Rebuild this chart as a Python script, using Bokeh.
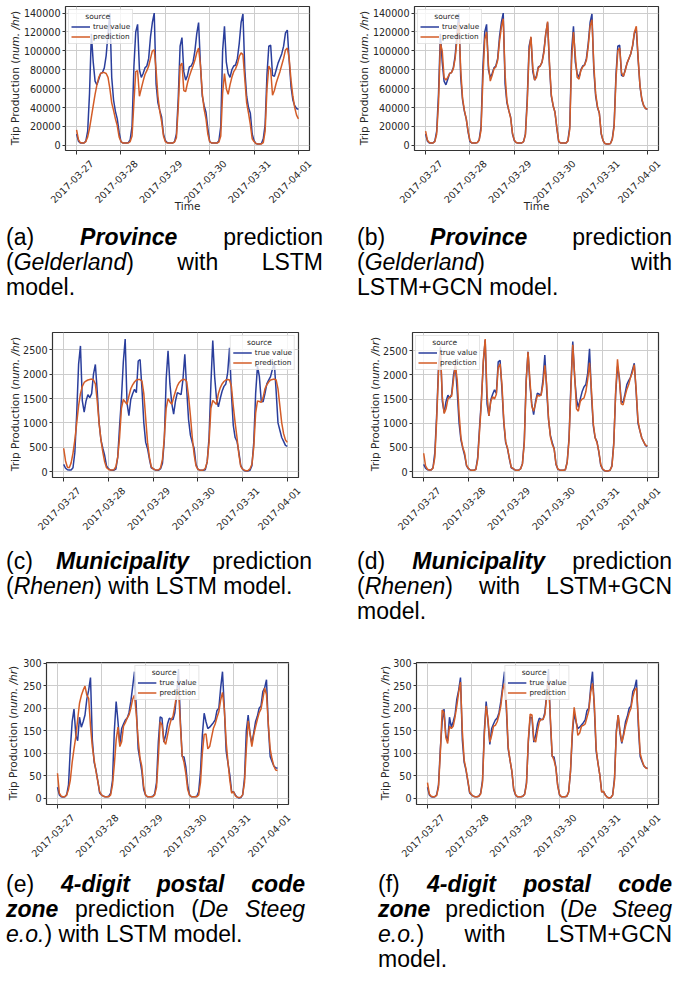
from math import pi

import pandas as pd
from bokeh.embed import file_html
from bokeh.layouts import column, row
from bokeh.models import (ColumnDataSource, CustomJSTickFormatter, Div, FixedTicker,
                          Legend, LegendItem, LinearAxis, NumeralTickFormatter, Range1d)
from bokeh.plotting import figure
from bokeh.resources import INLINE

# Hourly timestamps, Monday 2017-03-27 00:00 up to 2017-04-01 00:00
TIME = pd.date_range("2017-03-27 00:00", periods=121, freq="h")
DATE_TICKS = ["2017-03-27", "2017-03-28", "2017-03-29",
              "2017-03-30", "2017-03-31", "2017-04-01"]

# Province (Gelderland), trips per hour
PROVINCE_TRUE = [
    12000, 4500, 2500, 2500, 2500, 4500, 15000, 55000, 118000, 88000, 68000, 64000,
    70000, 76000, 77000, 82000, 95000, 118000, 140000, 72000, 48000, 36000, 28000, 14000,
    4000, 2500, 2500, 2500, 3000, 6000, 20000, 83000, 120000, 128000, 80000, 72000,
    76000, 82000, 84000, 92000, 115000, 130000, 140000, 65000, 45000, 37000, 30000, 12000,
    5000, 3000, 2500, 2500, 2500, 4000, 12000, 50000, 105000, 114000, 78000, 69000,
    74000, 83000, 84000, 88000, 100000, 118000, 130000, 85000, 52000, 42000, 35000, 18000,
    4000, 2500, 2500, 2500, 2500, 5000, 20000, 100000, 126000, 88000, 76000, 72000,
    80000, 84000, 85000, 92000, 108000, 130000, 139000, 80000, 52000, 40000, 34000, 12000,
    5000, 2000, 1500, 1500, 2000, 7000, 22000, 75000, 105000, 106000, 74000, 73000,
    80000, 87000, 92000, 97000, 105000, 119000, 122000, 90000, 62000, 48000, 42000, 39000,
    38000]
PROVINCE_LSTM = [
    16500, 6000, 3000, 2500, 2500, 4000, 9000, 18000, 30000, 42000, 54000, 64000,
    72000, 76000, 77000, 77000, 76000, 72000, 60000, 45000, 37000, 28000, 21000, 9000,
    4000, 2500, 2500, 2500, 2500, 4000, 10000, 45000, 78000, 79000, 52000, 60000,
    68000, 75000, 79000, 84000, 92000, 100000, 101000, 80000, 52000, 36000, 25000, 10000,
    4000, 2500, 2500, 2500, 2500, 3500, 8000, 40000, 84000, 87000, 58000, 57000,
    66000, 73000, 79000, 84000, 90000, 98000, 103000, 85000, 55000, 38000, 28000, 12000,
    4000, 2500, 2500, 2500, 2500, 3500, 10000, 55000, 76000, 60000, 54000, 64000,
    72000, 78000, 81000, 86000, 94000, 98000, 96000, 70000, 45000, 34000, 22000, 7000,
    4000, 2000, 1500, 1500, 1500, 3000, 15000, 60000, 84000, 80000, 53000, 58000,
    66000, 72000, 78000, 85000, 92000, 101000, 103000, 92000, 69000, 52000, 40000, 32000,
    28000]
PROVINCE_GCN = [
    15000, 5500, 3000, 2500, 2500, 4000, 12000, 45000, 108000, 100000, 72000, 69000,
    72000, 76000, 77000, 81000, 92000, 112000, 130000, 80000, 50000, 37000, 28000, 15000,
    5000, 2500, 2500, 2500, 3000, 5500, 16000, 70000, 112000, 120000, 85000, 68000,
    74000, 81000, 83000, 90000, 110000, 125000, 134000, 75000, 47000, 37000, 29000, 13000,
    5500, 3000, 2500, 2500, 2500, 4000, 11000, 45000, 100000, 115000, 82000, 69000,
    72000, 82000, 84000, 88000, 98000, 118000, 131000, 88000, 54000, 42000, 35000, 19000,
    4500, 2500, 2500, 2500, 2500, 4500, 17000, 90000, 120000, 95000, 72000, 70000,
    79000, 83000, 85000, 90000, 105000, 126000, 133000, 85000, 55000, 41000, 34000, 13000,
    5000, 2000, 1500, 1500, 2000, 6000, 20000, 70000, 100000, 103000, 77000, 73000,
    79000, 87000, 92000, 97000, 106000, 120000, 126000, 92000, 63000, 49000, 42000, 39000,
    38500]

# Municipality (Rhenen)
MUNI_TRUE = [
    150, 70, 40, 35, 35, 80, 400, 1200, 2200, 2580, 1450, 1220,
    1450, 1580, 1520, 1600, 2000, 2200, 1650, 1000, 650, 480, 330, 120,
    60, 35, 30, 30, 50, 300, 930, 1500, 2250, 2720, 1400, 1150,
    1480, 1600, 1690, 1620, 2270, 2300, 1700, 1000, 600, 470, 260, 80,
    60, 35, 30, 30, 60, 170, 650, 1900, 2480, 1800, 1400, 1180,
    1450, 1620, 1600, 1580, 1890, 2410, 1690, 1070, 750, 600, 480, 150,
    50, 35, 30, 30, 40, 200, 700, 1800, 2690, 1950, 1500, 1330,
    1500, 1650, 1750, 1800, 2030, 2540, 1600, 950, 700, 620, 400, 130,
    50, 20, 15, 15, 30, 120, 600, 1600, 2170, 1950, 1450, 1430,
    1600, 1800, 1880, 1950, 2100, 2240, 1650, 1000, 850, 700, 620, 540,
    520]
MUNI_LSTM = [
    480, 220, 90, 80, 180, 380, 650, 1000, 1350, 1600, 1750, 1830,
    1860, 1880, 1890, 1900, 1880, 1800, 1450, 1000, 650, 400, 200, 80,
    50, 35, 35, 40, 100, 300, 700, 1300, 1480, 1430, 1380, 1550,
    1700, 1780, 1840, 1880, 1890, 1890, 1860, 1600, 1100, 600, 300, 100,
    60, 40, 35, 40, 80, 250, 700, 1300, 1500, 1430, 1380, 1520,
    1650, 1760, 1830, 1870, 1890, 1890, 1850, 1550, 1150, 700, 350, 120,
    50, 35, 30, 35, 70, 200, 600, 1300, 1460, 1420, 1380, 1600,
    1720, 1800, 1850, 1880, 1890, 1880, 1750, 1350, 1000, 700, 350, 110,
    50, 30, 20, 25, 60, 150, 500, 1200, 1450, 1440, 1420, 1520,
    1700, 1780, 1840, 1880, 1890, 1900, 1880, 1700, 1350, 1000, 780, 650,
    600]
MUNI_GCN = [
    380, 120, 50, 35, 35, 70, 300, 1100, 2100, 2480, 1550, 1200,
    1300, 1500, 1550, 1560, 1900, 2200, 1900, 1200, 700, 500, 380, 130,
    70, 35, 30, 30, 45, 250, 850, 1450, 2300, 2740, 1600, 1150,
    1450, 1550, 1500, 1600, 2150, 2230, 1800, 1050, 620, 480, 280, 90,
    65, 35, 30, 30, 55, 160, 600, 1850, 2470, 1900, 1350, 1250,
    1400, 1580, 1560, 1580, 1800, 2200, 1800, 1100, 720, 560, 470, 160,
    55, 35, 30, 30, 40, 190, 650, 1700, 2620, 2000, 1300, 1250,
    1450, 1500, 1520, 1650, 1900, 2250, 1700, 1000, 700, 600, 420, 150,
    55, 25, 15, 15, 30, 110, 550, 1650, 2320, 1900, 1400, 1380,
    1550, 1700, 1800, 1950, 2050, 2210, 1700, 1050, 850, 700, 620, 550,
    530]

# 4-digit postal code zone (De Steeg e.o.)
POSTAL_TRUE = [
    25, 8, 4, 3, 4, 8, 30, 110, 170, 198, 140, 128,
    180, 158, 170, 185, 220, 240, 268, 130, 80, 63, 38, 12,
    8, 5, 4, 4, 5, 12, 40, 150, 215, 170, 120, 155,
    165, 174, 178, 190, 215, 248, 281, 200, 110, 85, 60, 20,
    8, 4, 4, 4, 5, 10, 35, 125, 181, 178, 125, 140,
    165, 178, 175, 175, 190, 230, 287, 174, 93, 92, 70, 30,
    8, 4, 4, 4, 5, 15, 60, 140, 189, 170, 155, 158,
    163, 168, 174, 195, 200, 245, 281, 200, 105, 78, 52, 15,
    15, 8, 3, 1, 2, 8, 45, 150, 185, 144, 122, 145,
    170, 182, 200, 205, 237, 245, 263, 160, 93, 82, 72, 68,
    67]
POSTAL_LSTM = [
    56, 12, 5, 4, 4, 8, 20, 41, 80, 110, 137, 175,
    211, 228, 240, 249, 229, 222, 160, 115, 85, 60, 38, 15,
    8, 5, 4, 4, 4, 8, 30, 75, 130, 158, 115, 126,
    160, 168, 178, 185, 200, 220, 229, 185, 130, 90, 71, 27,
    8, 4, 4, 4, 4, 8, 25, 90, 170, 163, 128, 120,
    140, 160, 175, 182, 205, 230, 245, 165, 95, 80, 55, 20,
    8, 4, 4, 4, 4, 8, 35, 100, 142, 143, 110, 115,
    135, 155, 165, 180, 192, 218, 235, 198, 125, 80, 40, 12,
    15, 6, 3, 2, 3, 8, 35, 110, 172, 145, 115, 140,
    158, 175, 190, 198, 220, 245, 230, 165, 110, 88, 72, 63,
    62]
POSTAL_GCN = [
    35, 10, 5, 4, 4, 7, 25, 100, 196, 190, 135, 122,
    160, 155, 160, 180, 205, 235, 258, 150, 85, 65, 40, 14,
    9, 5, 4, 4, 5, 10, 35, 140, 205, 175, 125, 140,
    160, 162, 170, 185, 205, 240, 255, 210, 115, 85, 62, 22,
    9, 4, 4, 4, 5, 9, 32, 130, 187, 185, 130, 125,
    150, 170, 175, 175, 185, 225, 260, 180, 95, 85, 68, 28,
    9, 4, 4, 4, 5, 14, 60, 150, 202, 175, 140, 145,
    160, 162, 165, 180, 195, 235, 255, 210, 110, 78, 52, 14,
    16, 7, 3, 1, 2, 7, 40, 145, 185, 150, 125, 140,
    160, 175, 190, 200, 225, 240, 245, 175, 100, 85, 73, 68,
    66]

PROVINCE_Y_TICKS = [0, 20000, 40000, 60000, 80000, 100000, 120000, 140000]
MUNI_Y_TICKS = [0, 500, 1000, 1500, 2000, 2500]
POSTAL_Y_TICKS = [0, 50, 100, 150, 200, 250, 300]

SERIES_LABELS = ["true value", "prediction"]
LEGEND_TITLE = "source"
Y_LABEL_HTML = "Trip Production (<i>num. /hr</i>)"
X_LABEL = "Time"

BLUE = "#2a3e9c"
ORANGE = "#d35c27"
INK = "#262626"
GRID = "#cdcdcd"
FONT = "DejaVu Sans"
CAPTION_FONT = "'Liberation Sans', Arial, sans-serif"

TICK_SIZE = "9.6px"
LABEL_SIZE = "10.5px"
# horizontal half-extent (px) of a 45-degree date label, used to centre it on its tick
LABEL_HALF_SPAN = 15


def make_panel(true_vals, pred_vals, y_ticks, legend_loc, width, height,
               left, right, top, bottom, time_label):
    assert len(true_vals) == len(TIME) == len(pred_vals)
    lo = min(min(true_vals), min(pred_vals))
    hi = max(max(true_vals), max(pred_vals))
    ypad = 0.05 * (hi - lo)
    xpad = (TIME[-1] - TIME[0]) * 0.05
    x0, x1 = TIME[0] - xpad, TIME[-1] + xpad

    p = figure(width=width, height=height, x_axis_type="datetime",
               x_range=Range1d(x0, x1), y_range=Range1d(lo - ypad, hi + ypad),
               output_backend="svg", toolbar_location=None,
               min_border_left=left, min_border_right=right,
               min_border_top=top, min_border_bottom=bottom)
    p.background_fill_color = "white"
    p.border_fill_color = "white"
    p.outline_line_color = "#333333"
    p.outline_line_width = 1.2

    tick_ms = [pd.Timestamp(d).value // 10**6 for d in DATE_TICKS]

    # tick marks on the frame edge (their own labels are not drawn)
    xa = p.xaxis[0]
    xa.ticker = FixedTicker(ticks=tick_ms)
    xa.major_label_text_color = None
    xa.major_label_standoff = 0

    ya = p.yaxis[0]
    ya.ticker = FixedTicker(ticks=y_ticks)
    ya.formatter = NumeralTickFormatter(format="0")
    ya.major_label_text_font = FONT
    ya.major_label_text_font_size = TICK_SIZE
    ya.major_label_text_color = INK
    ya.major_label_standoff = 2

    for ax in (xa, ya):
        ax.axis_line_color = None
        ax.major_tick_in = 0
        ax.minor_tick_in = 0
        ax.minor_tick_out = 0
        ax.major_tick_line_color = "#333333"
    xa.major_tick_out = 4
    ya.major_tick_out = 3

    # rotated date labels, shifted so each one is centred under its tick;
    # the shift is clamped so the last anchor stays inside the range
    frame_w = width - left - right
    ms_per_px = (x1 - x0).total_seconds() * 1000 / frame_w
    x1_ms = pd.Timestamp(x1).value // 10**6
    shifted = [min(int(ms + LABEL_HALF_SPAN * ms_per_px), x1_ms - 1000) for ms in tick_ms]
    label_axis = LinearAxis(
        ticker=FixedTicker(ticks=shifted),
        formatter=CustomJSTickFormatter(
            args=dict(positions=shifted, names=DATE_TICKS),
            code="const i = positions.indexOf(tick); return i < 0 ? '' : names[i];"),
        major_label_orientation=pi / 4, axis_line_color=None,
        major_tick_line_color=None, major_tick_in=0, major_tick_out=0,
        minor_tick_line_color=None, major_label_standoff=7,
        major_label_text_font=FONT, major_label_text_font_size=TICK_SIZE,
        major_label_text_color=INK)
    if time_label:
        label_axis.axis_label = X_LABEL
        label_axis.axis_label_text_font = FONT
        label_axis.axis_label_text_font_size = LABEL_SIZE
        label_axis.axis_label_text_font_style = "normal"
        label_axis.axis_label_text_color = INK
        label_axis.axis_label_standoff = -10
    p.add_layout(label_axis, "below")

    p.xgrid.grid_line_color = GRID
    p.ygrid.grid_line_color = GRID
    p.xgrid.ticker = FixedTicker(ticks=tick_ms)

    src = ColumnDataSource(dict(t=TIME, truth=true_vals, pred=pred_vals))
    r_true = p.line("t", "truth", source=src, line_color=BLUE, line_width=1.5)
    r_pred = p.line("t", "pred", source=src, line_color=ORANGE, line_width=1.5)

    legend = Legend(items=[LegendItem(label=SERIES_LABELS[0], renderers=[r_true]),
                           LegendItem(label=SERIES_LABELS[1], renderers=[r_pred])],
                    location=legend_loc, title="\u00a0" * 6 + LEGEND_TITLE, margin=3,
                    padding=2, spacing=1, glyph_width=19, glyph_height=9,
                    label_height=9, label_standoff=3, title_standoff=1,
                    label_text_font=FONT, label_text_font_size="7.3px",
                    label_text_color=INK, title_text_font=FONT,
                    title_text_font_size="7.5px", title_text_font_style="normal",
                    title_text_color=INK,
                    border_line_color="#cccccc", border_line_width=0.8,
                    background_fill_color="white", background_fill_alpha=0.8)
    p.add_layout(legend)
    return p


def y_label(width, height, centre_x, centre_y):
    html = (f'<div style="position:relative;width:{width}px;height:{height}px;">'
            f'<div style="position:absolute;left:{centre_x - 5}px;top:{centre_y}px;'
            f'transform:translateY(-50%) rotate(180deg);writing-mode:vertical-rl;'
            f'white-space:nowrap;font-family:\'{FONT}\';font-size:{LABEL_SIZE};'
            f'line-height:10px;color:{INK};">{Y_LABEL_HTML}</div></div>')
    return Div(text=html, width=width, height=height, margin=0)


def caption(lines, width, height, indent, text_width, pad_top):
    blocks = []
    for i, line in enumerate(lines):
        align = "left" if i == len(lines) - 1 else "justify"
        blocks.append(f'<div style="text-align:{align};text-align-last:{align};">{line}</div>')
    html = (f'<div style="font-family:{CAPTION_FONT};font-size:23px;line-height:25px;'
            f'color:#000;margin-left:{indent}px;width:{text_width}px;'
            f'padding-top:{pad_top}px;">' + "".join(blocks) + "</div>")
    return Div(text=html, width=width, height=height, margin=0)


fa = make_panel(PROVINCE_TRUE, PROVINCE_LSTM, PROVINCE_Y_TICKS, "top_left",
                320, 218, 42, 31, 6, 68, True)
fb = make_panel(PROVINCE_TRUE, PROVINCE_GCN, PROVINCE_Y_TICKS, "top_left",
                304, 218, 42, 15, 6, 68, True)
fc = make_panel(MUNI_TRUE, MUNI_LSTM, MUNI_Y_TICKS, "top_right",
                320, 235, 30, 42, 27, 63, False)
fd = make_panel(MUNI_TRUE, MUNI_GCN, MUNI_Y_TICKS, "top_left",
                293, 235, 30, 15, 27, 63, False)
fe = make_panel(POSTAL_TRUE, POSTAL_LSTM, POSTAL_Y_TICKS, "top_center",
                320, 224, 24, 52, 22, 60, False)
ff = make_panel(POSTAL_TRUE, POSTAL_GCN, POSTAL_Y_TICKS, "top_center",
                283, 224, 24, 15, 22, 60, False)

la, lb = y_label(20, 218, 15, 78), y_label(29, 218, 24, 78)
lc, ld = y_label(20, 235, 15, 99), y_label(40, 235, 35, 99)
le, lf = y_label(20, 224, 13, 93), y_label(50, 224, 45, 93)

ca = caption(["(a) <b><i>Province</i></b> prediction",
              "(<i>Gelderland</i>) with LSTM", "model."], 340, 87, 6, 317, 7)
cb = caption(["(b) <b><i>Province</i></b> prediction",
              "(<i>Gelderland</i>) with", "LSTM+GCN model."], 333, 87, 17, 315, 7)
cc = caption(["(c) <b><i>Municipality</i></b> prediction",
              "(<i>Rhenen</i>) with LSTM model."], 340, 100, 6, 306, 9)
cd = caption(["(d) <b><i>Municipality</i></b> prediction",
              "(<i>Rhenen</i>) with LSTM+GCN", "model."], 333, 100, 17, 315, 9)
ce = caption(["(e) <b><i>4-digit postal code</i></b>",
              "<b><i>zone</i></b> prediction (<i>De Steeg</i>",
              "<i>e.o.</i>) with LSTM model."], 340, 117, 6, 299, 8)
cf = caption(["(f) <b><i>4-digit postal code</i></b>",
              "<b><i>zone</i></b> prediction (<i>De Steeg</i>",
              "<i>e.o.</i>) with LSTM+GCN", "model."], 333, 117, 38, 294, 8)

page = column(row(la, fa, lb, fb), row(ca, cb),
              row(lc, fc, ld, fd), row(cc, cd),
              row(le, fe, lf, ff), row(ce, cf))

with open("out.html", "w") as fh:
    fh.write(file_html(page, INLINE, title="Trip production predictions"))
